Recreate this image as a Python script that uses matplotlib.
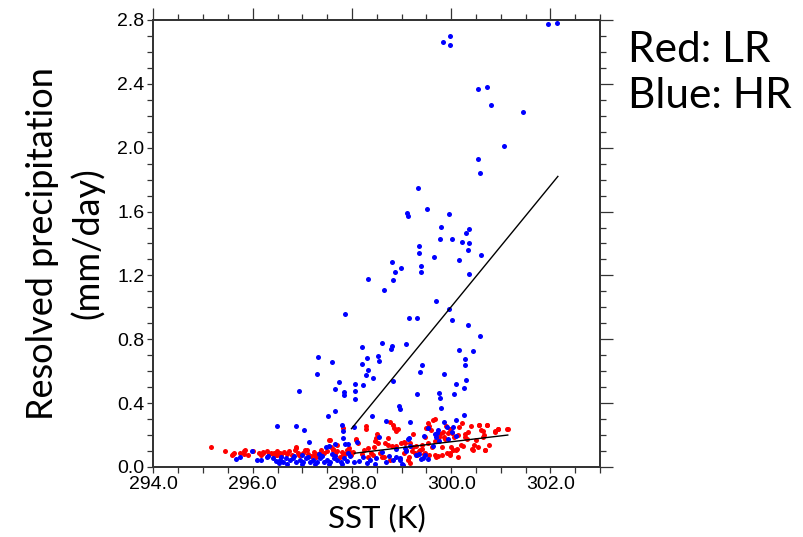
import matplotlib
matplotlib.use("Agg")
import matplotlib.pyplot as plt
from matplotlib.ticker import MultipleLocator, FormatStrFormatter

# HR (blue) points: SST (K), resolved precipitation (mm/day)
hr_sst = [
    301.96, 302.14, 299.98, 299.83, 299.97, 300.54, 300.72, 300.80, 301.44, 301.07,
    300.54, 300.58, 299.34, 299.51, 299.10, 299.13, 299.95, 299.79, 300.35, 300.30,
    299.77, 300.01, 300.21, 300.35, 299.36, 299.35, 300.33, 300.60, 299.66, 300.16,
    298.80, 298.99, 299.39, 298.87, 299.40, 300.35, 298.33, 298.83, 298.64, 299.69,
    299.95, 297.86, 299.14, 299.32, 300.01, 300.33, 300.59, 298.61, 299.09, 298.80,
    298.79, 298.20, 297.31, 297.60, 298.30, 298.52, 298.54, 300.15, 300.44, 300.28,
    300.27, 298.20, 299.41, 298.32, 299.38, 297.29, 298.28, 299.85, 298.42, 297.73,
    298.82, 300.30, 300.09, 297.65, 298.07, 298.22, 300.26, 296.94, 297.83, 298.07,
    297.84, 299.32, 299.76, 300.06, 299.78, 298.06,
    299.80, 298.95, 298.96, 297.52, 297.65, 298.40, 298.68, 299.18, 300.25, 300.10,
    299.85, 299.91, 300.04, 299.73, 299.94, 296.49, 296.87, 297.03, 297.80, 297.82,
    297.81, 298.05, 297.13, 297.47, 297.54, 297.66, 297.86, 298.54, 299.15, 299.70,
    299.68, 299.54, 299.46,
    295.67, 295.74, 295.98, 296.08, 296.16, 296.28, 297.93, 298.11, 298.60, 298.74,
    298.88, 298.96, 299.01, 299.08, 299.16, 299.35, 299.43, 299.76, 300.02, 300.10,
    298.22, 298.36, 298.49, 298.69, 298.82,
    296.54, 296.61, 296.67, 296.75, 296.81, 296.88, 296.95, 297.02, 297.08, 297.15,
    297.21, 297.29, 297.36, 297.43, 297.50, 297.56, 297.63, 297.70, 297.77, 297.84,
    297.90, 296.58, 296.70, 296.84, 296.99, 297.11, 297.25, 297.40, 297.53, 297.66,
    297.80, 297.96, 298.04, 296.40, 296.31, 296.53, 296.46, 296.99, 297.33, 297.60,
    297.92, 298.15, 298.30, 298.47, 298.89, 298.96, 299.02,
    299.30, 299.40, 299.48, 299.54, 299.64, 299.72, 299.13, 299.06,
]
hr_prec = [
    2.774, 2.782, 2.702, 2.663, 2.646, 2.367, 2.383, 2.266, 2.226, 2.009,
    1.928, 1.844, 1.748, 1.615, 1.593, 1.571, 1.587, 1.502, 1.489, 1.464,
    1.430, 1.429, 1.410, 1.402, 1.387, 1.341, 1.358, 1.326, 1.314, 1.297,
    1.283, 1.249, 1.261, 1.222, 1.220, 1.207, 1.176, 1.172, 1.107, 1.042,
    0.990, 0.957, 0.932, 0.932, 0.919, 0.890, 0.821, 0.779, 0.773, 0.760,
    0.741, 0.750, 0.687, 0.660, 0.683, 0.694, 0.666, 0.731, 0.725, 0.679,
    0.639, 0.643, 0.639, 0.608, 0.597, 0.581, 0.576, 0.581, 0.560, 0.531,
    0.541, 0.547, 0.522, 0.491, 0.518, 0.512, 0.497, 0.474, 0.468, 0.478,
    0.449, 0.459, 0.466, 0.459, 0.430, 0.424,
    0.372, 0.382, 0.362, 0.320, 0.353, 0.318, 0.290, 0.282, 0.324, 0.294,
    0.282, 0.253, 0.253, 0.232, 0.175, 0.255, 0.259, 0.232, 0.265, 0.226,
    0.182, 0.253, 0.157, 0.127, 0.132, 0.144, 0.144, 0.186, 0.182, 0.186,
    0.205, 0.242, 0.194,
    0.050, 0.063, 0.100, 0.042, 0.042, 0.063, 0.146, 0.155, 0.096, 0.071,
    0.113, 0.054, 0.017, 0.100, 0.130, 0.084, 0.054, 0.163, 0.221, 0.192,
    0.063, 0.046, 0.054, 0.033, 0.046,
    0.046, 0.033, 0.054, 0.042, 0.058, 0.029, 0.046, 0.033, 0.054, 0.029,
    0.046, 0.033, 0.054, 0.029, 0.046, 0.033, 0.058, 0.042, 0.029, 0.054,
    0.038, 0.063, 0.021, 0.067, 0.019, 0.065, 0.021, 0.067, 0.019, 0.071,
    0.021, 0.067, 0.029, 0.054, 0.069, 0.023, 0.040, 0.075, 0.079, 0.084,
    0.090, 0.040, 0.025, 0.019, 0.065, 0.044, 0.013,
    0.073, 0.048, 0.073, 0.052, 0.132, 0.211, 0.178, 0.117,
]

# LR (red) points
lr_sst = [
    295.15, 295.45, 295.58, 295.63, 295.74, 295.82, 295.85, 296.00, 296.12, 296.16,
    296.21, 296.28, 296.32, 296.36, 296.42, 296.47, 296.49, 296.55, 296.57, 296.63,
    296.69, 296.73, 296.79, 296.85, 296.88, 296.91, 296.96, 297.02, 297.06, 297.12,
    297.18, 297.23, 297.28, 297.32, 297.38, 297.43, 297.49, 297.54, 297.57, 297.61,
    297.65, 297.70, 297.75, 297.79, 297.85, 297.90, 297.95, 297.99, 298.08, 298.13,
    298.20, 298.25, 298.29, 298.33, 298.38, 298.44, 298.48, 298.50, 298.53, 298.57,
    298.61, 298.67, 298.72, 298.77, 298.83, 298.88, 298.93, 298.99, 299.04, 299.09,
    299.16, 299.23, 299.27, 299.32, 299.38, 299.42, 299.47, 299.50, 299.54, 299.56,
    299.60, 299.63, 299.67, 299.71, 299.77, 299.82, 299.86, 299.90, 299.94, 299.98,
    300.02, 300.06, 300.10, 300.15, 300.21, 300.23, 300.28, 300.34, 300.40, 300.44,
    300.50, 300.56, 300.61, 300.65, 300.68, 300.72, 300.77, 300.88, 300.95, 301.13,
    299.13, 299.15, 299.22, 299.36, 299.42, 299.45, 299.54, 299.61, 299.68, 299.68,
    299.73, 299.76, 299.81, 299.88, 299.92, 299.97, 300.00, 300.04, 300.12, 300.13,
    300.20, 300.28, 300.31, 300.42, 300.46, 300.54, 300.56, 300.64, 300.66, 300.68,
    300.72, 300.88, 300.94, 301.14, 299.07, 299.17,
    295.61, 295.83, 295.91, 296.21, 296.40, 296.48, 296.88, 296.93, 297.09, 297.23,
    297.35, 297.55, 297.62, 297.69, 297.82, 297.95, 298.03, 298.09, 298.28, 298.33,
    298.46, 298.42, 298.64, 298.73, 298.76, 298.81, 298.84, 298.89, 299.05, 299.24,
    299.30, 299.47, 299.56, 299.70, 299.83, 299.97, 300.13, 297.82,
]
lr_prec = [
    0.123, 0.102, 0.077, 0.086, 0.090, 0.081, 0.107, 0.098, 0.090, 0.073,
    0.086, 0.098, 0.081, 0.090, 0.086, 0.073, 0.098, 0.090, 0.077, 0.094,
    0.081, 0.098, 0.077, 0.107, 0.127, 0.086, 0.073, 0.090, 0.107, 0.081,
    0.069, 0.094, 0.065, 0.081, 0.107, 0.086, 0.098, 0.169, 0.127, 0.111,
    0.081, 0.098, 0.065, 0.094, 0.081, 0.107, 0.098, 0.077, 0.173, 0.148,
    0.081, 0.107, 0.240, 0.065, 0.090, 0.127, 0.182, 0.207, 0.152, 0.090,
    0.065, 0.148, 0.140, 0.282, 0.261, 0.132, 0.240, 0.152, 0.086, 0.107,
    0.148, 0.127, 0.086, 0.073, 0.107, 0.136, 0.190, 0.244, 0.274, 0.257,
    0.232, 0.294, 0.303, 0.169, 0.207, 0.077, 0.190, 0.257, 0.211, 0.240,
    0.211, 0.190, 0.107, 0.253, 0.274, 0.132, 0.190, 0.219, 0.257, 0.107,
    0.169, 0.265, 0.232, 0.190, 0.107, 0.261, 0.140, 0.219, 0.240, 0.236,
    0.044, 0.065, 0.098, 0.102, 0.115, 0.081, 0.148, 0.123, 0.161, 0.073,
    0.069, 0.190, 0.127, 0.178, 0.086, 0.077, 0.123, 0.107, 0.111, 0.203,
    0.140, 0.207, 0.173, 0.111, 0.136, 0.123, 0.265, 0.223, 0.198, 0.107,
    0.265, 0.223, 0.240, 0.236, 0.148, 0.027,
    0.084, 0.100, 0.075, 0.092, 0.084, 0.075, 0.117, 0.075, 0.104, 0.075,
    0.088, 0.167, 0.104, 0.138, 0.075, 0.117, 0.096, 0.167, 0.255, 0.121,
    0.163, 0.075, 0.063, 0.180, 0.046, 0.130, 0.247, 0.226, 0.154, 0.205,
    0.134, 0.088, 0.075, 0.063, 0.217, 0.088, 0.063, 0.246,
]

# linear fits as drawn on the chart (end points)
hr_fit_sst = [297.99, 302.15]
hr_fit_prec = [0.24, 1.82]
lr_fit_sst = [298.05, 301.14]
lr_fit_prec = [0.086, 0.20]

XLIM = (294.0, 303.0)
YLIM = (0.0, 2.8)
TICK_FONT = "Liberation Sans"
LABEL_FONT = "Lato"
EDGE = "#333333"

fig = plt.figure(figsize=(8.04, 5.37), dpi=100)
ax = fig.add_axes([0.1909, 0.1304, 0.5554, 0.8324])

ax.scatter(lr_sst, lr_prec, s=13, color="#ff0000", linewidths=0, zorder=2)
ax.scatter(hr_sst, hr_prec, s=13, color="#0000ff", linewidths=0, zorder=3)
ax.plot(hr_fit_sst, hr_fit_prec, color="black", lw=1.0, zorder=4)
ax.plot(lr_fit_sst, lr_fit_prec, color="black", lw=1.0, zorder=4)

ax.set_xlim(*XLIM)
ax.set_ylim(*YLIM)
ax.xaxis.set_major_locator(MultipleLocator(2))
ax.xaxis.set_minor_locator(MultipleLocator(0.5))
ax.yaxis.set_major_locator(MultipleLocator(0.4))
ax.yaxis.set_minor_locator(MultipleLocator(0.1))
ax.xaxis.set_major_formatter(FormatStrFormatter("%.1f"))
ax.yaxis.set_major_formatter(FormatStrFormatter("%.1f"))
ax.tick_params(which="both", direction="out", length=4.5, width=0.9, color=EDGE,
               labelsize=14, pad=2)
for lab in ax.get_xticklabels() + ax.get_yticklabels():
    lab.set_family(TICK_FONT)

# top / right ticks: long majors, short minors, no labels
top = ax.twiny()
top.set_xlim(*XLIM)
top.xaxis.set_major_locator(MultipleLocator(2))
top.xaxis.set_minor_locator(MultipleLocator(0.5))
top.tick_params(which="major", direction="out", length=8.5, width=0.9, color=EDGE, labeltop=False)
top.tick_params(which="minor", direction="out", length=4.3, width=0.9, color=EDGE)
right = ax.twinx()
right.set_ylim(*YLIM)
right.yaxis.set_major_locator(MultipleLocator(0.4))
right.yaxis.set_minor_locator(MultipleLocator(0.1))
right.tick_params(which="major", direction="out", length=9, width=0.9, color=EDGE, labelright=False)
right.tick_params(which="minor", direction="out", length=4.5, width=0.9, color=EDGE)

for a in (ax, top, right):
    for sp in a.spines.values():
        sp.set_linewidth(1.1)
        sp.set_color(EDGE)

ax.set_xlabel("SST (K)", fontsize=22.5, family=LABEL_FONT, labelpad=8)
ax.set_ylabel("Resolved precipitation\n(mm/day)", fontsize=26, family=LABEL_FONT,
              labelpad=9, linespacing=1.4)

fig.text(0.781, 0.942, "Red: LR\nBlue: HR", fontsize=30.5, family=LABEL_FONT,
         ha="left", va="top", linespacing=1.25)

fig.savefig("out.png", dpi=100, facecolor="white")
